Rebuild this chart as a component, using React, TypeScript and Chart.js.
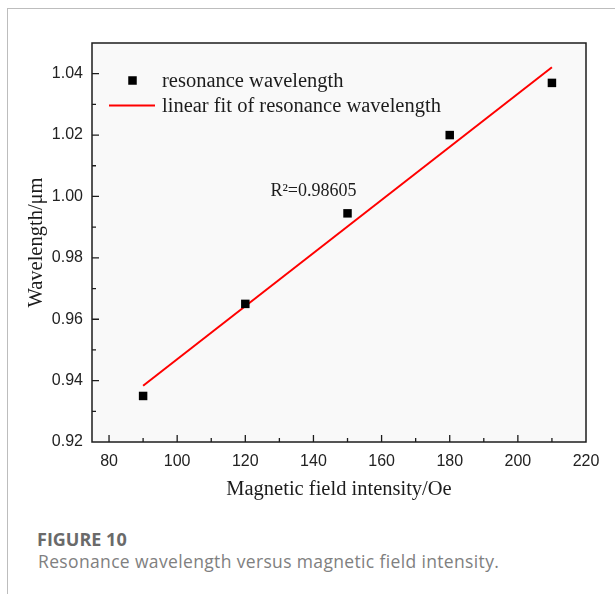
import { useEffect, useRef } from "react";
import { Chart, registerables } from "chart.js";

Chart.register(...registerables);

// Measured resonance wavelength at each applied field
const FIELD_OE = [90, 120, 150, 180, 210];
const WAVELENGTH_UM = [0.935, 0.965, 0.9945, 1.02, 1.037];

// End points of the linear fit
const FIT_FIELD_OE = [90, 210];
const FIT_WAVELENGTH_UM = [0.9383, 1.0421];

// Axis ticks
const X_TICKS = [80, 100, 120, 140, 160, 180, 200, 220];
const Y_TICKS = [0.92, 0.94, 0.96, 0.98, 1.0, 1.02, 1.04];

const R2_LABEL = "R\u00B2=0.98605";
const R2_POSITION = { x: 140, y: 1.0 };

const SERIES_NAMES = ["resonance wavelength", "linear fit of resonance wavelength"];

const SERIF = '"Liberation Serif", "Times New Roman", serif';
const SANS = '"Liberation Sans", Arial, sans-serif';
const INK = "#1c1c1c";
const FIT_RED = "#ff0000";

const midpoints = (arr: number[]) =>
  arr.slice(0, -1).map((v, i) => (v + arr[i + 1]) / 2);

const plotDecor = {
  id: "plotDecor",
  beforeDraw(chart: any) {
    const { ctx, chartArea: a } = chart;
    ctx.save();
    ctx.fillStyle = "#f9f9f9";
    ctx.fillRect(a.left, a.top, a.right - a.left, a.bottom - a.top);
    ctx.restore();
  },
  afterDatasetsDraw(chart: any) {
    const { ctx, chartArea: a, scales } = chart;
    const xs = scales.x;
    const ys = scales.y;
    ctx.save();
    ctx.strokeStyle = INK;
    ctx.lineWidth = 1.5;
    ctx.strokeRect(a.left, a.top, a.right - a.left, a.bottom - a.top);

    ctx.lineWidth = 1.3;
    ctx.beginPath();
    // inward ticks on the bottom axis
    X_TICKS.forEach((v) => {
      const px = xs.getPixelForValue(v);
      if (px > a.left + 1 && px < a.right - 1) {
        ctx.moveTo(px, a.bottom);
        ctx.lineTo(px, a.bottom - 7);
      }
    });
    midpoints(X_TICKS).forEach((v) => {
      const px = xs.getPixelForValue(v);
      ctx.moveTo(px, a.bottom);
      ctx.lineTo(px, a.bottom - 4);
    });
    // inward ticks on the left axis
    Y_TICKS.forEach((v) => {
      const py = ys.getPixelForValue(v);
      if (py > a.top + 1 && py < a.bottom - 1) {
        ctx.moveTo(a.left, py);
        ctx.lineTo(a.left + 7, py);
      }
    });
    midpoints(Y_TICKS).forEach((v) => {
      const py = ys.getPixelForValue(v);
      ctx.moveTo(a.left, py);
      ctx.lineTo(a.left + 4, py);
    });
    ctx.stroke();
    ctx.restore();
  },
  afterDraw(chart: any) {
    const { ctx, chartArea: a, scales } = chart;
    ctx.save();
    // legend
    const row1 = a.top + 37.5;
    const row2 = a.top + 62.5;
    ctx.fillStyle = "#000";
    const s = 8.5;
    ctx.fillRect(a.left + 40.5 - s / 2, row1 - s / 2, s, s);
    ctx.strokeStyle = FIT_RED;
    ctx.lineWidth = 2;
    ctx.beginPath();
    ctx.moveTo(a.left + 17, row2);
    ctx.lineTo(a.left + 63, row2);
    ctx.stroke();
    ctx.font = `20.5px ${SERIF}`;
    ctx.fillStyle = INK;
    ctx.textAlign = "left";
    ctx.textBaseline = "alphabetic";
    ctx.fillText(SERIES_NAMES[0], a.left + 70, row1 + 6.5);
    ctx.fillText(SERIES_NAMES[1], a.left + 70, row2 + 6.5);

    // goodness of fit
    ctx.font = `18px ${SERIF}`;
    ctx.textAlign = "center";
    ctx.fillText(
      R2_LABEL,
      scales.x.getPixelForValue(R2_POSITION.x),
      scales.y.getPixelForValue(R2_POSITION.y)
    );
    ctx.restore();
  },
};

function WavelengthChart() {
  const canvasRef = useRef<HTMLCanvasElement | null>(null);

  useEffect(() => {
    const canvas = canvasRef.current;
    if (!canvas) return;
    const chart = new Chart(canvas, {
      type: "scatter",
      data: {
        datasets: [
          {
            label: SERIES_NAMES[0],
            data: FIELD_OE.map((x, i) => ({ x, y: WAVELENGTH_UM[i] })),
            pointStyle: "rect",
            pointRadius: 6,
            pointHoverRadius: 6,
            backgroundColor: "#000",
            borderColor: "#000",
            borderWidth: 0,
            showLine: false,
            order: 1,
          },
          {
            label: SERIES_NAMES[1],
            data: FIT_FIELD_OE.map((x, i) => ({ x, y: FIT_WAVELENGTH_UM[i] })),
            showLine: true,
            borderColor: FIT_RED,
            borderWidth: 2,
            pointRadius: 0,
            pointHoverRadius: 0,
            fill: false,
            order: 2,
          },
        ],
      },
      options: {
        responsive: false,
        animation: false,
        devicePixelRatio: 1,
        layout: { padding: { left: 0, top: 43, right: 29, bottom: 0 } },
        plugins: {
          legend: { display: false },
          tooltip: { enabled: false },
        },
        scales: {
          x: {
            type: "linear",
            min: 75,
            max: 220,
            grid: { display: false, drawTicks: false },
            border: { display: false },
            afterBuildTicks: (scale: any) => {
              scale.ticks = X_TICKS.map((value) => ({ value }));
            },
            afterFit: (scale: any) => {
              scale.height = 78;
            },
            ticks: {
              padding: 10,
              color: "#222",
              font: { family: SANS, size: 16 },
              maxRotation: 0,
              callback: (v: any) => String(v),
            },
            title: {
              display: true,
              text: "Magnetic field intensity/Oe",
              color: INK,
              font: { family: SERIF, size: 20.5 },
              padding: { top: 0, bottom: 18.5 },
            },
          },
          y: {
            type: "linear",
            min: 0.92,
            max: 1.05,
            grid: { display: false, drawTicks: false },
            border: { display: false },
            afterBuildTicks: (scale: any) => {
              scale.ticks = Y_TICKS.map((value) => ({ value }));
            },
            afterFit: (scale: any) => {
              scale.width = 92;
            },
            ticks: {
              padding: 9,
              color: "#222",
              font: { family: SANS, size: 16 },
              callback: (v: any) => Number(v).toFixed(2),
            },
            title: {
              display: true,
              text: "Wavelength/\u03BCm",
              color: INK,
              font: { family: SERIF, size: 20.5 },
              padding: { top: 24.5, bottom: 0 },
            },
          },
        },
      },
      plugins: [plotDecor],
    });
    return () => chart.destroy();
  }, []);

  return (
    <canvas
      ref={canvasRef}
      width={615}
      height={520}
      style={{ position: "absolute", left: 0, top: 0, width: 615, height: 520 }}
    />
  );
}

export default function App() {
  return (
    <div
      style={{
        position: "fixed",
        left: 0,
        top: 0,
        width: 615,
        height: 594,
        background: "#fff",
        overflow: "hidden",
      }}
    >
      <div
        style={{
          position: "absolute",
          left: 7,
          top: 8,
          right: 0,
          bottom: 0,
          borderTop: "1px solid #bdbdbd",
          borderLeft: "1px solid #bdbdbd",
        }}
      />
      <WavelengthChart />
      <div
        style={{
          position: "absolute",
          left: 37,
          top: 529,
          fontFamily: '"Open Sans", sans-serif',
          fontWeight: 700,
          fontSize: 18,
          lineHeight: "20px",
          color: "#6a6a6a",
          whiteSpace: "nowrap",
        }}
      >
        FIGURE 10
      </div>
      <div
        style={{
          position: "absolute",
          left: 38,
          top: 550,
          fontFamily: '"Open Sans", sans-serif',
          fontWeight: 400,
          fontSize: 17.5,
          letterSpacing: "0.35px",
          lineHeight: "22px",
          color: "#808080",
          whiteSpace: "nowrap",
        }}
      >
        Resonance wavelength versus magnetic field intensity.
      </div>
    </div>
  );
}
